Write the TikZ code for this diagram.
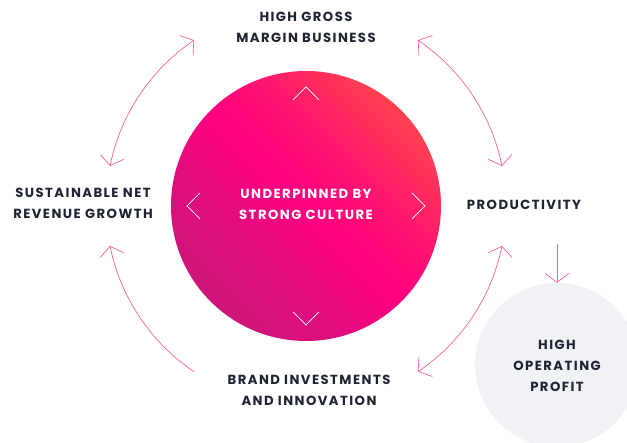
\documentclass[tikz,border=0pt]{standalone}
\usepackage{fontspec}
\setmainfont{Poppins}[LetterSpace=11]
\usetikzlibrary{arrows.meta,calc}
\definecolor{arrowpink}{HTML}{F7609E}
\definecolor{labeltext}{HTML}{1F2433}
\definecolor{opgray}{HTML}{F1F2F6}
\definecolor{gA}{HTML}{BE1E78}
\definecolor{gB}{HTML}{DE0E7E}
\definecolor{gC}{HTML}{FF0080}
\definecolor{gD}{HTML}{FF1570}
\definecolor{gE}{HTML}{FF4050}
\definecolor{gF}{HTML}{FF5A3C}
\pgfdeclarehorizontalshading{coreshade}{100bp}{%
  color(0bp)=(gA); color(14.6bp)=(gA); color(35.8bp)=(gB);
  color(50bp)=(gC); color(60.6bp)=(gD); color(74.7bp)=(gE); color(85.3bp)=(gF); color(100bp)=(gF)}
\tikzset{
  lbl/.style={text=labeltext, font=\bfseries\fontsize{13.2}{21}\selectfont, align=center, inner sep=0pt},
  cyc/.style={draw=arrowpink, line width=0.7pt, -{Straight Barb[length=9pt,width=24pt]}},
  cycboth/.style={draw=arrowpink, line width=0.7pt, {Straight Barb[length=9pt,width=24pt]}-{Straight Barb[length=9pt,width=24pt]}},
  chev/.style={draw=white, line width=0.7pt}
}
\begin{document}
\begin{tikzpicture}[x=1pt,y=1pt]
\useasboundingbox (0,0) rectangle (627,443);
\coordinate (C) at (306,237);
% gray circle
\node[circle, fill=opgray, minimum size=164pt, inner sep=0pt] (op) at (557,78) {};
\node[lbl] (optext) at (557,77) {HIGH\\OPERATING\\PROFIT};
% main circle
\node[circle, minimum size=270pt, inner sep=0pt, shading=coreshade, shading angle=45] (core) at (C) {};
\node[lbl, text=white] (coretext) at (306,239) {UNDERPINNED BY\\STRONG CULTURE};
% chevrons
\draw[chev] ($(C)+(-13,106)$) -- ($(C)+(0,119)$) -- ($(C)+(13,106)$);
\draw[chev] ($(C)+(-13,-106)$) -- ($(C)+(0,-119)$) -- ($(C)+(13,-106)$);
\draw[chev] ($(C)+(-106,13)$) -- ($(C)+(-119,0)$) -- ($(C)+(-106,-13)$);
\draw[chev] ($(C)+(106,13)$) -- ($(C)+(119,0)$) -- ($(C)+(106,-13)$);
% labels
\node[lbl] (gross) at (306,416) {HIGH GROSS\\MARGIN BUSINESS};
\node[lbl] (growth) at (83,240) {SUSTAINABLE NET\\REVENUE GROWTH};
\node[lbl] (prod) at (524,238) {PRODUCTIVITY};
\node[lbl] (brand) at (309,53) {BRAND INVESTMENTS\\AND INNOVATION};
% arcs
\coordinate (a1) at ($(C)+(11.5:200)$);
\coordinate (a2) at ($(C)+(124:200)$);
\coordinate (a3) at ($(C)+(236:200)$);
\coordinate (a4) at ($(C)+(304:200)$);
\draw[cycboth] (a1) arc[start angle=11.5, end angle=56, radius=200];
\draw[cycboth] (a2) arc[start angle=124, end angle=168.5, radius=200];
\draw[cyc] (a3) arc[start angle=236, end angle=191.5, radius=200];
\draw[cycboth] (a4) arc[start angle=304, end angle=348.5, radius=200];
% down arrow
\coordinate (d0) at (557,199);
\draw[cyc] (d0) -- (op.north);
\end{tikzpicture}
\end{document}
